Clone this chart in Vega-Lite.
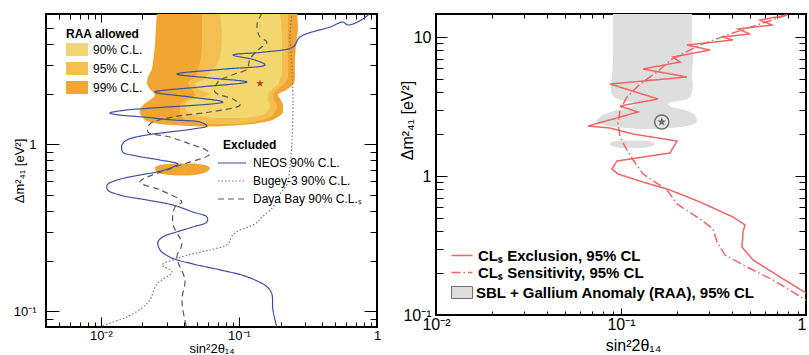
{
"$schema":"https://vega.github.io/schema/vega-lite/v6.json",
"background":"white",
"padding":{"left":12,"top":7,"right":0,"bottom":0},
"config":{"font":"Liberation Sans","view":{"stroke":"black","strokeWidth":2},"axis":{"domain":false,"grid":false,"tickColor":"black","tickWidth":1,"labelColor":"black","titleColor":"black","labelFont":"Liberation Sans","titleFont":"Liberation Sans","titleFontWeight":"normal","labelFlush":false,"labelOverlap":false,"labelBound":false},"legend":{"labelFont":"Liberation Sans","titleFont":"Liberation Sans","labelColor":"black","titleColor":"black","labelLimit":400}},
"datasets":{
"raaL":[
{"cl":"99% C.L.","part":"main","y":6.1,"x1":0.02545,"x2":0.2632},
{"cl":"99% C.L.","part":"main","y":5.04,"x1":0.02504,"x2":0.2676},
{"cl":"99% C.L.","part":"main","y":3.932,"x1":0.02462,"x2":0.2588},
{"cl":"99% C.L.","part":"main","y":3.111,"x1":0.02381,"x2":0.2545},
{"cl":"99% C.L.","part":"main","y":2.824,"x1":0.02342,"x2":0.2545},
{"cl":"99% C.L.","part":"main","y":2.529,"x1":0.02191,"x2":0.2545},
{"cl":"99% C.L.","part":"main","y":2.328,"x1":0.02154,"x2":0.2504},
{"cl":"99% C.L.","part":"main","y":2.144,"x1":0.02265,"x2":0.2265},
{"cl":"99% C.L.","part":"main","y":1.973,"x1":0.02462,"x2":0.1917},
{"cl":"99% C.L.","part":"main","y":1.842,"x1":0.02265,"x2":0.2015},
{"cl":"99% C.L.","part":"main","y":1.719,"x1":0.0202,"x2":0.2084},
{"cl":"99% C.L.","part":"main","y":1.561,"x1":0.01917,"x2":0.2084},
{"cl":"99% C.L.","part":"main","y":1.457,"x1":0.01982,"x2":0.1917},
{"cl":"99% C.L.","part":"main","y":1.36,"x1":0.02265,"x2":0.1543},
{"cl":"99% C.L.","part":"main","y":1.305,"x1":0.0316,"x2":0.1017},
{"cl":"99% C.L.","part":"main","y":1.278,"x1":0.0522,"x2":0.067},
{"cl":"99% C.L.","part":"blob","y":0.7674,"x1":0.0327,"x2":0.048},
{"cl":"99% C.L.","part":"blob","y":0.7516,"x1":0.02676,"x2":0.0567},
{"cl":"99% C.L.","part":"blob","y":0.7213,"x1":0.02462,"x2":0.0616},
{"cl":"99% C.L.","part":"blob","y":0.6919,"x1":0.02504,"x2":0.0596},
{"cl":"99% C.L.","part":"blob","y":0.6641,"x1":0.02767,"x2":0.0522},
{"cl":"99% C.L.","part":"blob","y":0.6505,"x1":0.0344,"x2":0.0442},
{"cl":"95% C.L.","part":"main","y":6.1,"x1":0.0539,"x2":0.2265},
{"cl":"95% C.L.","part":"main","y":3.932,"x1":0.0539,"x2":0.2265},
{"cl":"95% C.L.","part":"main","y":2.824,"x1":0.0505,"x2":0.2265},
{"cl":"95% C.L.","part":"main","y":2.529,"x1":0.048,"x2":0.2265},
{"cl":"95% C.L.","part":"main","y":2.328,"x1":0.0427,"x2":0.2154},
{"cl":"95% C.L.","part":"main","y":2.144,"x1":0.0456,"x2":0.1917},
{"cl":"95% C.L.","part":"main","y":1.973,"x1":0.048,"x2":0.1763},
{"cl":"95% C.L.","part":"main","y":1.842,"x1":0.0406,"x2":0.1793},
{"cl":"95% C.L.","part":"main","y":1.719,"x1":0.0374,"x2":0.1886},
{"cl":"95% C.L.","part":"main","y":1.561,"x1":0.0374,"x2":0.1823},
{"cl":"95% C.L.","part":"main","y":1.457,"x1":0.0386,"x2":0.1677},
{"cl":"95% C.L.","part":"main","y":1.379,"x1":0.0442,"x2":0.1373},
{"cl":"95% C.L.","part":"main","y":1.323,"x1":0.0616,"x2":0.1017},
{"cl":"90% C.L.","part":"main","y":6.1,"x1":0.0728,"x2":0.198},
{"cl":"90% C.L.","part":"main","y":4.391,"x1":0.0753,"x2":0.2049},
{"cl":"90% C.L.","part":"main","y":3.333,"x1":0.0728,"x2":0.2049},
{"cl":"90% C.L.","part":"main","y":2.904,"x1":0.067,"x2":0.2049},
{"cl":"90% C.L.","part":"main","y":2.636,"x1":0.0596,"x2":0.2049},
{"cl":"90% C.L.","part":"main","y":2.46,"x1":0.0567,"x2":0.198},
{"cl":"90% C.L.","part":"main","y":2.297,"x1":0.048,"x2":0.1917},
{"cl":"90% C.L.","part":"main","y":2.144,"x1":0.0505,"x2":0.1763},
{"cl":"90% C.L.","part":"main","y":2.001,"x1":0.0616,"x2":0.1622},
{"cl":"90% C.L.","part":"main","y":1.842,"x1":0.0442,"x2":0.1622},
{"cl":"90% C.L.","part":"main","y":1.719,"x1":0.0406,"x2":0.1677},
{"cl":"90% C.L.","part":"main","y":1.582,"x1":0.042,"x2":0.1622},
{"cl":"90% C.L.","part":"main","y":1.497,"x1":0.048,"x2":0.1468},
{"cl":"90% C.L.","part":"main","y":1.437,"x1":0.067,"x2":0.1105}
],
"linesL":[
{"exp":"NEOS 90% C.L.","k":1,"x":0.189,"y":0.079},
{"exp":"NEOS 90% C.L.","k":2,"x":0.176,"y":0.102},
{"exp":"NEOS 90% C.L.","k":3,"x":0.173,"y":0.127},
{"exp":"NEOS 90% C.L.","k":4,"x":0.16,"y":0.14},
{"exp":"NEOS 90% C.L.","k":5,"x":0.114,"y":0.161},
{"exp":"NEOS 90% C.L.","k":6,"x":0.0728,"y":0.177},
{"exp":"NEOS 90% C.L.","k":7,"x":0.0464,"y":0.192},
{"exp":"NEOS 90% C.L.","k":8,"x":0.0316,"y":0.211},
{"exp":"NEOS 90% C.L.","k":9,"x":0.0268,"y":0.233},
{"exp":"NEOS 90% C.L.","k":10,"x":0.0259,"y":0.26},
{"exp":"NEOS 90% C.L.","k":11,"x":0.0281,"y":0.279},
{"exp":"NEOS 90% C.L.","k":12,"x":0.0355,"y":0.299},
{"exp":"NEOS 90% C.L.","k":13,"x":0.0464,"y":0.32},
{"exp":"NEOS 90% C.L.","k":14,"x":0.0586,"y":0.343},
{"exp":"NEOS 90% C.L.","k":15,"x":0.0586,"y":0.367},
{"exp":"NEOS 90% C.L.","k":16,"x":0.0464,"y":0.393},
{"exp":"NEOS 90% C.L.","k":17,"x":0.0332,"y":0.433},
{"exp":"NEOS 90% C.L.","k":18,"x":0.0215,"y":0.464},
{"exp":"NEOS 90% C.L.","k":19,"x":0.0137,"y":0.497},
{"exp":"NEOS 90% C.L.","k":20,"x":0.0112,"y":0.533},
{"exp":"NEOS 90% C.L.","k":21,"x":0.0111,"y":0.571},
{"exp":"NEOS 90% C.L.","k":22,"x":0.0131,"y":0.611},
{"exp":"NEOS 90% C.L.","k":23,"x":0.0192,"y":0.655},
{"exp":"NEOS 90% C.L.","k":24,"x":0.0255,"y":0.683},
{"exp":"NEOS 90% C.L.","k":25,"x":0.0332,"y":0.731},
{"exp":"NEOS 90% C.L.","k":26,"x":0.0361,"y":0.762},
{"exp":"NEOS 90% C.L.","k":27,"x":0.0268,"y":0.805},
{"exp":"NEOS 90% C.L.","k":28,"x":0.0182,"y":0.851},
{"exp":"NEOS 90% C.L.","k":29,"x":0.0144,"y":0.899},
{"exp":"NEOS 90% C.L.","k":30,"x":0.0142,"y":0.99},
{"exp":"NEOS 90% C.L.","k":31,"x":0.0154,"y":1.061},
{"exp":"NEOS 90% C.L.","k":32,"x":0.0215,"y":1.137},
{"exp":"NEOS 90% C.L.","k":33,"x":0.0316,"y":1.185},
{"exp":"NEOS 90% C.L.","k":34,"x":0.0464,"y":1.235},
{"exp":"NEOS 90% C.L.","k":35,"x":0.0586,"y":1.287},
{"exp":"NEOS 90% C.L.","k":36,"x":0.0522,"y":1.36},
{"exp":"NEOS 90% C.L.","k":37,"x":0.0332,"y":1.398},
{"exp":"NEOS 90% C.L.","k":38,"x":0.0202,"y":1.457},
{"exp":"NEOS 90% C.L.","k":39,"x":0.0137,"y":1.497},
{"exp":"NEOS 90% C.L.","k":40,"x":0.0116,"y":1.539},
{"exp":"NEOS 90% C.L.","k":41,"x":0.0154,"y":1.605},
{"exp":"NEOS 90% C.L.","k":42,"x":0.0238,"y":1.65},
{"exp":"NEOS 90% C.L.","k":43,"x":0.0766,"y":1.792},
{"exp":"NEOS 90% C.L.","k":44,"x":0.0442,"y":1.92},
{"exp":"NEOS 90% C.L.","k":45,"x":0.0246,"y":2.057},
{"exp":"NEOS 90% C.L.","k":46,"x":0.0522,"y":2.204},
{"exp":"NEOS 90% C.L.","k":47,"x":0.1143,"y":2.361},
{"exp":"NEOS 90% C.L.","k":48,"x":0.0616,"y":2.495},
{"exp":"NEOS 90% C.L.","k":49,"x":0.0355,"y":2.636},
{"exp":"NEOS 90% C.L.","k":50,"x":0.0792,"y":2.824},
{"exp":"NEOS 90% C.L.","k":51,"x":0.1543,"y":2.985},
{"exp":"NEOS 90% C.L.","k":52,"x":0.1306,"y":3.198},
{"exp":"NEOS 90% C.L.","k":53,"x":0.0905,"y":3.425},
{"exp":"NEOS 90% C.L.","k":54,"x":0.1543,"y":3.571},
{"exp":"NEOS 90% C.L.","k":55,"x":0.2462,"y":3.825},
{"exp":"NEOS 90% C.L.","k":56,"x":0.2767,"y":4.391},
{"exp":"NEOS 90% C.L.","k":57,"x":0.4565,"y":5.04},
{"exp":"NEOS 90% C.L.","k":58,"x":0.567,"y":5.4},
{"exp":"NEOS 90% C.L.","k":59,"x":0.616,"y":5.181},
{"exp":"NEOS 90% C.L.","k":60,"x":0.792,"y":5.628},
{"exp":"NEOS 90% C.L.","k":61,"x":0.89,"y":6.1},
{"exp":"Bugey-3 90% C.L.","k":1,"x":0.2421,"y":6.1},
{"exp":"Bugey-3 90% C.L.","k":2,"x":0.2342,"y":4.39},
{"exp":"Bugey-3 90% C.L.","k":3,"x":0.2421,"y":2.904},
{"exp":"Bugey-3 90% C.L.","k":4,"x":0.2462,"y":1.673},
{"exp":"Bugey-3 90% C.L.","k":5,"x":0.2421,"y":1.061},
{"exp":"Bugey-3 90% C.L.","k":6,"x":0.2342,"y":0.731},
{"exp":"Bugey-3 90% C.L.","k":7,"x":0.2228,"y":0.5786},
{"exp":"Bugey-3 90% C.L.","k":8,"x":0.198,"y":0.5041},
{"exp":"Bugey-3 90% C.L.","k":9,"x":0.1763,"y":0.4212},
{"exp":"Bugey-3 90% C.L.","k":10,"x":0.1468,"y":0.367},
{"exp":"Bugey-3 90% C.L.","k":11,"x":0.1306,"y":0.3333},
{"exp":"Bugey-3 90% C.L.","k":12,"x":0.0984,"y":0.3026},
{"exp":"Bugey-3 90% C.L.","k":13,"x":0.089,"y":0.2824},
{"exp":"Bugey-3 90% C.L.","k":14,"x":0.0832,"y":0.253},
{"exp":"Bugey-3 90% C.L.","k":15,"x":0.0616,"y":0.2328},
{"exp":"Bugey-3 90% C.L.","k":16,"x":0.0427,"y":0.2173},
{"exp":"Bugey-3 90% C.L.","k":17,"x":0.0281,"y":0.1919},
{"exp":"Bugey-3 90% C.L.","k":18,"x":0.02767,"y":0.1893},
{"exp":"Bugey-3 90% C.L.","k":19,"x":0.0327,"y":0.1719},
{"exp":"Bugey-3 90% C.L.","k":20,"x":0.02545,"y":0.1457},
{"exp":"Bugey-3 90% C.L.","k":21,"x":0.02265,"y":0.1169},
{"exp":"Bugey-3 90% C.L.","k":22,"x":0.0202,"y":0.1061},
{"exp":"Bugey-3 90% C.L.","k":23,"x":0.01543,"y":0.0924},
{"exp":"Bugey-3 90% C.L.","k":24,"x":0.01034,"y":0.0817},
{"exp":"Bugey-3 90% C.L.","k":25,"x":0.00984,"y":0.079},
{"exp":"Daya Bay 90% C.L.ₛ","k":1,"x":0.1468,"y":6.1},
{"exp":"Daya Bay 90% C.L.ₛ","k":2,"x":0.135,"y":5.18},
{"exp":"Daya Bay 90% C.L.ₛ","k":3,"x":0.142,"y":4.39},
{"exp":"Daya Bay 90% C.L.ₛ","k":4,"x":0.1595,"y":4.099},
{"exp":"Daya Bay 90% C.L.ₛ","k":5,"x":0.1373,"y":3.671},
{"exp":"Daya Bay 90% C.L.ₛ","k":6,"x":0.1202,"y":3.242},
{"exp":"Daya Bay 90% C.L.ₛ","k":7,"x":0.1143,"y":2.824},
{"exp":"Daya Bay 90% C.L.ₛ","k":8,"x":0.089,"y":2.6},
{"exp":"Daya Bay 90% C.L.ₛ","k":9,"x":0.0705,"y":2.361},
{"exp":"Daya Bay 90% C.L.ₛ","k":10,"x":0.067,"y":2.057},
{"exp":"Daya Bay 90% C.L.ₛ","k":11,"x":0.0905,"y":1.867},
{"exp":"Daya Bay 90% C.L.ₛ","k":12,"x":0.1017,"y":1.719},
{"exp":"Daya Bay 90% C.L.ₛ","k":13,"x":0.0616,"y":1.561},
{"exp":"Daya Bay 90% C.L.ₛ","k":14,"x":0.0332,"y":1.457},
{"exp":"Daya Bay 90% C.L.ₛ","k":15,"x":0.02265,"y":1.323},
{"exp":"Daya Bay 90% C.L.ₛ","k":16,"x":0.02191,"y":1.185},
{"exp":"Daya Bay 90% C.L.ₛ","k":17,"x":0.0316,"y":1.106},
{"exp":"Daya Bay 90% C.L.ₛ","k":18,"x":0.0442,"y":1.004},
{"exp":"Daya Bay 90% C.L.ₛ","k":19,"x":0.0577,"y":0.925},
{"exp":"Daya Bay 90% C.L.ₛ","k":20,"x":0.0616,"y":0.875},
{"exp":"Daya Bay 90% C.L.ₛ","k":21,"x":0.0344,"y":0.731},
{"exp":"Daya Bay 90% C.L.ₛ","k":22,"x":0.01917,"y":0.5945},
{"exp":"Daya Bay 90% C.L.ₛ","k":23,"x":0.0268,"y":0.533},
{"exp":"Daya Bay 90% C.L.ₛ","k":24,"x":0.0386,"y":0.451},
{"exp":"Daya Bay 90% C.L.ₛ","k":25,"x":0.0344,"y":0.4212},
{"exp":"Daya Bay 90% C.L.ₛ","k":26,"x":0.0332,"y":0.3333},
{"exp":"Daya Bay 90% C.L.ₛ","k":27,"x":0.0386,"y":0.253},
{"exp":"Daya Bay 90% C.L.ₛ","k":28,"x":0.0355,"y":0.2114},
{"exp":"Daya Bay 90% C.L.ₛ","k":29,"x":0.0406,"y":0.1539},
{"exp":"Daya Bay 90% C.L.ₛ","k":30,"x":0.0386,"y":0.1169},
{"exp":"Daya Bay 90% C.L.ₛ","k":31,"x":0.0413,"y":0.0828},
{"exp":"Daya Bay 90% C.L.ₛ","k":32,"x":0.042,"y":0.079}
],
"starL":[{"x":0.142,"y":2.31}],
"grayR":[
{"lab":"SBL + Gallium Anomaly (RAA), 95% CL","part":"a","y":15,"x1":0.0905,"x2":0.242},
{"lab":"SBL + Gallium Anomaly (RAA), 95% CL","part":"a","y":10.0,"x1":0.0905,"x2":0.242},
{"lab":"SBL + Gallium Anomaly (RAA), 95% CL","part":"a","y":7.181,"x1":0.0905,"x2":0.245},
{"lab":"SBL + Gallium Anomaly (RAA), 95% CL","part":"a","y":5.155,"x1":0.0894,"x2":0.242},
{"lab":"SBL + Gallium Anomaly (RAA), 95% CL","part":"a","y":4.515,"x1":0.0883,"x2":0.245},
{"lab":"SBL + Gallium Anomaly (RAA), 95% CL","part":"a","y":4.021,"x1":0.0883,"x2":0.242},
{"lab":"SBL + Gallium Anomaly (RAA), 95% CL","part":"a","y":3.701,"x1":0.0917,"x2":0.236},
{"lab":"SBL + Gallium Anomaly (RAA), 95% CL","part":"a","y":3.523,"x1":0.0988,"x2":0.219},
{"lab":"SBL + Gallium Anomaly (RAA), 95% CL","part":"a","y":3.408,"x1":0.1147,"x2":0.1887},
{"lab":"SBL + Gallium Anomaly (RAA), 95% CL","part":"a","y":3.296,"x1":0.119,"x2":0.1795},
{"lab":"SBL + Gallium Anomaly (RAA), 95% CL","part":"a","y":3.136,"x1":0.1119,"x2":0.1887},
{"lab":"SBL + Gallium Anomaly (RAA), 95% CL","part":"a","y":2.984,"x1":0.0963,"x2":0.2218},
{"lab":"SBL + Gallium Anomaly (RAA), 95% CL","part":"a","y":2.839,"x1":0.0851,"x2":0.242},
{"lab":"SBL + Gallium Anomaly (RAA), 95% CL","part":"a","y":2.658,"x1":0.077,"x2":0.2543},
{"lab":"SBL + Gallium Anomaly (RAA), 95% CL","part":"a","y":2.487,"x1":0.0733,"x2":0.2575},
{"lab":"SBL + Gallium Anomaly (RAA), 95% CL","part":"a","y":2.366,"x1":0.077,"x2":0.2481},
{"lab":"SBL + Gallium Anomaly (RAA), 95% CL","part":"a","y":2.251,"x1":0.0928,"x2":0.2085},
{"lab":"SBL + Gallium Anomaly (RAA), 95% CL","part":"a","y":2.178,"x1":0.1267,"x2":0.1625},
{"lab":"SBL + Gallium Anomaly (RAA), 95% CL","part":"b","y":1.8,"x1":0.0988,"x2":0.1348},
{"lab":"SBL + Gallium Anomaly (RAA), 95% CL","part":"b","y":1.756,"x1":0.0894,"x2":0.1472},
{"lab":"SBL + Gallium Anomaly (RAA), 95% CL","part":"b","y":1.699,"x1":0.0872,"x2":0.1527},
{"lab":"SBL + Gallium Anomaly (RAA), 95% CL","part":"b","y":1.644,"x1":0.0894,"x2":0.1472},
{"lab":"SBL + Gallium Anomaly (RAA), 95% CL","part":"b","y":1.59,"x1":0.0988,"x2":0.1315}
],
"linesR":[
{"lab":"CLₛ Exclusion, 95% CL","k":1,"x":0.79,"y":14.4},
{"lab":"CLₛ Exclusion, 95% CL","k":2,"x":0.564,"y":13.25},
{"lab":"CLₛ Exclusion, 95% CL","k":3,"x":0.655,"y":12.2},
{"lab":"CLₛ Exclusion, 95% CL","k":4,"x":0.429,"y":11.42},
{"lab":"CLₛ Exclusion, 95% CL","k":5,"x":0.498,"y":10.51},
{"lab":"CLₛ Exclusion, 95% CL","k":6,"x":0.352,"y":10.0},
{"lab":"CLₛ Exclusion, 95% CL","k":7,"x":0.403,"y":9.515},
{"lab":"CLₛ Exclusion, 95% CL","k":8,"x":0.227,"y":8.759},
{"lab":"CLₛ Exclusion, 95% CL","k":9,"x":0.303,"y":8.062},
{"lab":"CLₛ Exclusion, 95% CL","k":10,"x":0.191,"y":7.181},
{"lab":"CLₛ Exclusion, 95% CL","k":11,"x":0.2085,"y":6.609},
{"lab":"CLₛ Exclusion, 95% CL","k":12,"x":0.1315,"y":5.886},
{"lab":"CLₛ Exclusion, 95% CL","k":13,"x":0.2274,"y":5.155},
{"lab":"CLₛ Exclusion, 95% CL","k":14,"x":0.0872,"y":4.591},
{"lab":"CLₛ Exclusion, 95% CL","k":15,"x":0.1585,"y":3.581},
{"lab":"CLₛ Exclusion, 95% CL","k":16,"x":0.0988,"y":3.189},
{"lab":"CLₛ Exclusion, 95% CL","k":17,"x":0.1236,"y":2.887},
{"lab":"CLₛ Exclusion, 95% CL","k":18,"x":0.0663,"y":2.289},
{"lab":"CLₛ Exclusion, 95% CL","k":19,"x":0.0872,"y":2.215},
{"lab":"CLₛ Exclusion, 95% CL","k":20,"x":0.1161,"y":2.005},
{"lab":"CLₛ Exclusion, 95% CL","k":21,"x":0.2008,"y":1.785},
{"lab":"CLₛ Exclusion, 95% CL","k":22,"x":0.184,"y":1.464},
{"lab":"CLₛ Exclusion, 95% CL","k":23,"x":0.0951,"y":1.282},
{"lab":"CLₛ Exclusion, 95% CL","k":24,"x":0.0894,"y":1.123},
{"lab":"CLₛ Exclusion, 95% CL","k":25,"x":0.0963,"y":1.034},
{"lab":"CLₛ Exclusion, 95% CL","k":26,"x":0.1315,"y":0.905},
{"lab":"CLₛ Exclusion, 95% CL","k":27,"x":0.184,"y":0.793},
{"lab":"CLₛ Exclusion, 95% CL","k":28,"x":0.2673,"y":0.65},
{"lab":"CLₛ Exclusion, 95% CL","k":29,"x":0.4031,"y":0.507},
{"lab":"CLₛ Exclusion, 95% CL","k":30,"x":0.4681,"y":0.444},
{"lab":"CLₛ Exclusion, 95% CL","k":31,"x":0.4566,"y":0.396},
{"lab":"CLₛ Exclusion, 95% CL","k":32,"x":0.4509,"y":0.308},
{"lab":"CLₛ Exclusion, 95% CL","k":33,"x":0.5169,"y":0.249},
{"lab":"CLₛ Exclusion, 95% CL","k":34,"x":0.7236,"y":0.1877},
{"lab":"CLₛ Exclusion, 95% CL","k":35,"x":1.0,"y":0.144},
{"lab":"CLₛ Sensitivity, 95% CL","k":1,"x":0.79,"y":14.4},
{"lab":"CLₛ Sensitivity, 95% CL","k":2,"x":0.564,"y":12.41},
{"lab":"CLₛ Sensitivity, 95% CL","k":3,"x":0.388,"y":10.51},
{"lab":"CLₛ Sensitivity, 95% CL","k":4,"x":0.2673,"y":8.759},
{"lab":"CLₛ Sensitivity, 95% CL","k":5,"x":0.1887,"y":6.947},
{"lab":"CLₛ Sensitivity, 95% CL","k":6,"x":0.1565,"y":5.601},
{"lab":"CLₛ Sensitivity, 95% CL","k":7,"x":0.1267,"y":4.591},
{"lab":"CLₛ Sensitivity, 95% CL","k":8,"x":0.1077,"y":3.701},
{"lab":"CLₛ Sensitivity, 95% CL","k":9,"x":0.0988,"y":2.984},
{"lab":"CLₛ Sensitivity, 95% CL","k":10,"x":0.0963,"y":2.366},
{"lab":"CLₛ Sensitivity, 95% CL","k":11,"x":0.0988,"y":1.908},
{"lab":"CLₛ Sensitivity, 95% CL","k":12,"x":0.1077,"y":1.538},
{"lab":"CLₛ Sensitivity, 95% CL","k":13,"x":0.1161,"y":1.303},
{"lab":"CLₛ Sensitivity, 95% CL","k":14,"x":0.1315,"y":1.034},
{"lab":"CLₛ Sensitivity, 95% CL","k":15,"x":0.1772,"y":0.793},
{"lab":"CLₛ Sensitivity, 95% CL","k":16,"x":0.2008,"y":0.629},
{"lab":"CLₛ Sensitivity, 95% CL","k":17,"x":0.2673,"y":0.491},
{"lab":"CLₛ Sensitivity, 95% CL","k":18,"x":0.3144,"y":0.416},
{"lab":"CLₛ Sensitivity, 95% CL","k":19,"x":0.3304,"y":0.335},
{"lab":"CLₛ Sensitivity, 95% CL","k":20,"x":0.3648,"y":0.27},
{"lab":"CLₛ Sensitivity, 95% CL","k":21,"x":0.4798,"y":0.2215},
{"lab":"CLₛ Sensitivity, 95% CL","k":22,"x":0.6634,"y":0.1785},
{"lab":"CLₛ Sensitivity, 95% CL","k":23,"x":1.0,"y":0.1282}
],
"starR":[{"x":0.166,"y":2.446}]
},
"spacing":59,
"bounds":"flush",
"resolve":{"scale":{"fill":"independent","stroke":"independent","strokeDash":"independent"},"legend":{"fill":"independent","stroke":"independent","strokeDash":"independent"}},
"hconcat":[
{
"width":331,"height":313,
"resolve":{"axis":{"x":"independent","y":"independent"}},
"layer":[
{"data":{"name":"raaL"},"transform":[{"filter":"datum.cl == '99% C.L.'"}],
"mark":{"type":"area","orient":"horizontal","interpolate":"monotone","clip":true},
"encoding":{
"y":{"field":"y","type":"quantitative","scale":{"type":"log","domain":[0.0805,6.03],"nice":false},
"axis":{"orient":"left","values":[0.08,0.09,0.1,0.2,0.3,0.4,0.5,0.6,0.7,0.8,0.9,1,2,3,4,5,6],"labelExpr":"datum.value == 0.1 ? '10⁻¹' : datum.value == 1 ? '1' : ''","tickSize":{"condition":{"test":"datum.value == 0.1 || datum.value == 1","value":-13},"value":-7},"labelFontSize":13,"labelPadding":23,"title":"Δm²₄₁ [eV²]","titleFontSize":13,"titleX":-27,"titleBaseline":"middle","titleAlign":"center"}},
"x":{"field":"x1","type":"quantitative","scale":{"type":"log","domain":[0.004,1],"nice":false},
"axis":{"orient":"bottom","values":[0.005,0.006,0.007,0.008,0.009,0.01,0.02,0.03,0.04,0.05,0.06,0.07,0.08,0.09,0.1,0.2,0.3,0.4,0.5,0.6,0.7,0.8,0.9,1],"labelExpr":"datum.value == 0.01 ? '10⁻²' : datum.value == 0.1 ? '10⁻¹' : datum.value == 1 ? '1' : ''","tickSize":{"condition":{"test":"datum.value == 0.01 || datum.value == 0.1 || datum.value == 1","value":-10},"value":-5},"labelFontSize":13,"labelPadding":12,"title":"sin²2θ₁₄","titleFontSize":13,"titleY":21,"titleBaseline":"middle"}},
"x2":{"field":"x2"},
"detail":{"field":"part"},
"fill":{"field":"cl","type":"nominal","scale":{"domain":["90% C.L.","95% C.L.","99% C.L."],"range":["#F2D86C","#F4BF50","#F1A532"]},
"legend":{"orient":"none","legendX":20,"legendY":15,"title":"RAA allowed","titleFontSize":12,"titleFontWeight":"bold","labelFontSize":12,"symbolType":"M-1,-1H2.385V1H-1Z","symbolSize":169,"symbolStrokeWidth":0,"labelOffset":14,"rowPadding":6,"titlePadding":2}}
}},
{"data":{"name":"raaL"},"transform":[{"filter":"datum.cl == '95% C.L.'"}],
"mark":{"type":"area","orient":"horizontal","interpolate":"monotone","clip":true},
"encoding":{
"y":{"field":"y","type":"quantitative","scale":{"type":"log","domain":[0.0805,6.03],"nice":false},"axis":null},
"x":{"field":"x1","type":"quantitative","scale":{"type":"log","domain":[0.004,1],"nice":false},"axis":null},
"x2":{"field":"x2"},
"detail":{"field":"part"},
"fill":{"field":"cl","type":"nominal","scale":{"domain":["90% C.L.","95% C.L.","99% C.L."],"range":["#F2D86C","#F4BF50","#F1A532"]},
"legend":{"orient":"none","legendX":20,"legendY":15,"title":"RAA allowed","titleFontSize":12,"titleFontWeight":"bold","labelFontSize":12,"symbolType":"M-1,-1H2.385V1H-1Z","symbolSize":169,"symbolStrokeWidth":0,"labelOffset":14,"rowPadding":6,"titlePadding":2}}
}},
{"data":{"name":"raaL"},"transform":[{"filter":"datum.cl == '90% C.L.'"}],
"mark":{"type":"area","orient":"horizontal","interpolate":"monotone","clip":true},
"encoding":{
"y":{"field":"y","type":"quantitative","scale":{"type":"log","domain":[0.0805,6.03],"nice":false},"axis":null},
"x":{"field":"x1","type":"quantitative","scale":{"type":"log","domain":[0.004,1],"nice":false},"axis":null},
"x2":{"field":"x2"},
"detail":{"field":"part"},
"fill":{"field":"cl","type":"nominal","scale":{"domain":["90% C.L.","95% C.L.","99% C.L."],"range":["#F2D86C","#F4BF50","#F1A532"]},
"legend":{"orient":"none","legendX":20,"legendY":15,"title":"RAA allowed","titleFontSize":12,"titleFontWeight":"bold","labelFontSize":12,"symbolType":"M-1,-1H2.385V1H-1Z","symbolSize":169,"symbolStrokeWidth":0,"labelOffset":14,"rowPadding":6,"titlePadding":2}}
}},
{"data":{"name":"linesL"},
"mark":{"type":"line","interpolate":"catmull-rom","strokeWidth":1.2,"clip":true},
"encoding":{
"y":{"field":"y","type":"quantitative","scale":{"type":"log","domain":[0.0805,6.03],"nice":false},"axis":null},
"x":{"field":"x","type":"quantitative","scale":{"type":"log","domain":[0.004,1],"nice":false},"axis":null},
"order":{"field":"k","type":"quantitative"},
"stroke":{"field":"exp","type":"nominal","scale":{"domain":["NEOS 90% C.L.","Bugey-3 90% C.L.","Daya Bay 90% C.L.ₛ"],"range":["#3D4FA6","#7A7A7A","#5A5A5A"]},
"legend":{"orient":"none","legendX":171,"legendY":126,"title":"Excluded","titleFontSize":12,"titleFontWeight":"bold","labelFontSize":12,"symbolType":"M-1,0H3.667","symbolSize":144,"symbolStrokeWidth":1.2,"labelOffset":22,"rowPadding":5,"titlePadding":4,
"encode":{"title":{"update":{"dx":{"value":6}}}}}},
"strokeDash":{"field":"exp","type":"nominal","scale":{"domain":["NEOS 90% C.L.","Bugey-3 90% C.L.","Daya Bay 90% C.L.ₛ"],"range":[[1,0],[1.5,2],[6,4]]},"legend":null}
}},
{"data":{"name":"starL"},
"mark":{"type":"point","shape":"M0,-1L0.2245,-0.309L0.9511,-0.309L0.3633,0.118L0.5878,0.809L0,0.382L-0.5878,0.809L-0.3633,0.118L-0.9511,-0.309L-0.2245,-0.309Z","filled":true,"color":"#B5352A","size":64,"opacity":1},
"encoding":{
"y":{"field":"y","type":"quantitative","scale":{"type":"log","domain":[0.0805,6.03],"nice":false},
"axis":{"orient":"right","values":[0.08,0.09,0.1,0.2,0.3,0.4,0.5,0.6,0.7,0.8,0.9,1,2,3,4,5,6],"labels":false,"title":null,"tickSize":{"condition":{"test":"datum.value == 0.1 || datum.value == 1","value":-13},"value":-7}}},
"x":{"field":"x","type":"quantitative","scale":{"type":"log","domain":[0.004,1],"nice":false},
"axis":{"orient":"top","values":[0.005,0.006,0.007,0.008,0.009,0.01,0.02,0.03,0.04,0.05,0.06,0.07,0.08,0.09,0.1,0.2,0.3,0.4,0.5,0.6,0.7,0.8,0.9,1],"labels":false,"title":null,"tickSize":{"condition":{"test":"datum.value == 0.01 || datum.value == 0.1 || datum.value == 1","value":-8},"value":-5}}}
}}
]
},
{
"width":370,"height":301,
"resolve":{"axis":{"x":"independent","y":"independent"}},
"layer":[
{"data":{"name":"grayR"},
"mark":{"type":"area","orient":"horizontal","interpolate":"monotone","clip":true},
"encoding":{
"y":{"field":"y","type":"quantitative","scale":{"type":"log","domain":[0.1,14.64],"nice":false},
"axis":{"orient":"left","values":[0.1,0.2,0.3,0.4,0.5,0.6,0.7,0.8,0.9,1,2,3,4,5,6,7,8,9,10],"labelExpr":"datum.value == 0.1 ? '10⁻¹' : datum.value == 1 ? '1' : datum.value == 10 ? '10' : ''","tickSize":{"condition":{"test":"datum.value == 0.1 || datum.value == 1 || datum.value == 10","value":-11},"value":-7},"labelFontSize":16,"labelPadding":16,"title":"Δm²₄₁ [eV²]","titleFontSize":16,"titleX":-29,"titleY":106,"titleBaseline":"middle","titleAlign":"center"}},
"x":{"field":"x1","type":"quantitative","scale":{"type":"log","domain":[0.01,1],"nice":false},
"axis":{"orient":"bottom","values":[0.01,0.02,0.03,0.04,0.05,0.06,0.07,0.08,0.09,0.1,0.2,0.3,0.4,0.5,0.6,0.7,0.8,0.9,1],"labelExpr":"datum.value == 0.01 ? '10⁻²' : datum.value == 0.1 ? '10⁻¹' : datum.value == 1 ? '1' : ''","labelAlign":{"condition":{"test":"datum.value == 1","value":"right"},"value":"center"},"tickSize":{"condition":{"test":"datum.value == 0.01 || datum.value == 0.1 || datum.value == 1","value":-7},"value":-4},"labelFontSize":16,"labelPadding":8,"title":"sin²2θ₁₄","titleFontSize":16,"titleX":197,"titleY":30,"titleAlign":"center","titleBaseline":"middle"}},
"x2":{"field":"x2"},
"detail":{"field":"part"},
"fill":{"field":"lab","type":"nominal","scale":{"domain":["SBL + Gallium Anomaly (RAA), 95% CL"],"range":["#DEDEDE"]},
"legend":{"orient":"none","legendX":14,"legendY":271,"title":null,"labelFontSize":15,"labelFontWeight":"bold","symbolType":"M-1,-1H2.5V1H-1Z","symbolSize":144,"symbolStrokeColor":"#707070","symbolStrokeWidth":1,"labelOffset":11}}
}},
{"data":{"name":"linesR"},
"mark":{"type":"line","strokeWidth":1.5,"clip":true},
"encoding":{
"y":{"field":"y","type":"quantitative","scale":{"type":"log","domain":[0.1,14.64],"nice":false},"axis":null},
"x":{"field":"x","type":"quantitative","scale":{"type":"log","domain":[0.01,1],"nice":false},"axis":null},
"order":{"field":"k","type":"quantitative"},
"stroke":{"field":"lab","type":"nominal","scale":{"domain":["CLₛ Exclusion, 95% CL","CLₛ Sensitivity, 95% CL"],"range":["#F26565","#F26565"]},
"legend":{"orient":"none","legendX":14,"legendY":234,"title":null,"labelFontSize":15,"labelFontWeight":"bold","symbolType":"M-1,0H2.5","symbolSize":144,"symbolStrokeWidth":1.5,"labelOffset":13,"rowPadding":1}},
"strokeDash":{"field":"lab","type":"nominal","scale":{"domain":["CLₛ Exclusion, 95% CL","CLₛ Sensitivity, 95% CL"],"range":[[1,0],[9,3,1.5,3]]}}
}},
{"data":{"name":"starR"},
"mark":{"type":"point","shape":"circle","filled":true,"fill":"#E4E4E4","stroke":"#6E6E6E","strokeWidth":1.5,"size":200,"opacity":1},
"encoding":{
"y":{"field":"y","type":"quantitative","scale":{"type":"log","domain":[0.1,14.64],"nice":false},
"axis":{"orient":"right","values":[0.1,0.2,0.3,0.4,0.5,0.6,0.7,0.8,0.9,1,2,3,4,5,6,7,8,9,10],"labels":false,"title":null,"tickSize":{"condition":{"test":"datum.value == 0.1 || datum.value == 1 || datum.value == 10","value":-11},"value":-7}}},
"x":{"field":"x","type":"quantitative","scale":{"type":"log","domain":[0.01,1],"nice":false},
"axis":{"orient":"top","values":[0.01,0.02,0.03,0.04,0.05,0.06,0.07,0.08,0.09,0.1,0.2,0.3,0.4,0.5,0.6,0.7,0.8,0.9,1],"labels":false,"title":null,"tickSize":{"condition":{"test":"datum.value == 0.01 || datum.value == 0.1 || datum.value == 1","value":-7},"value":-4}}}
}},
{"data":{"name":"starR"},
"mark":{"type":"point","shape":"M0,-1L0.2245,-0.309L0.9511,-0.309L0.3633,0.118L0.5878,0.809L0,0.382L-0.5878,0.809L-0.3633,0.118L-0.9511,-0.309L-0.2245,-0.309Z","filled":true,"color":"#6A6A6A","size":90,"opacity":1},
"encoding":{
"y":{"field":"y","type":"quantitative","scale":{"type":"log","domain":[0.1,14.64],"nice":false},"axis":null},
"x":{"field":"x","type":"quantitative","scale":{"type":"log","domain":[0.01,1],"nice":false},"axis":null}
}}
]
}
]
}
